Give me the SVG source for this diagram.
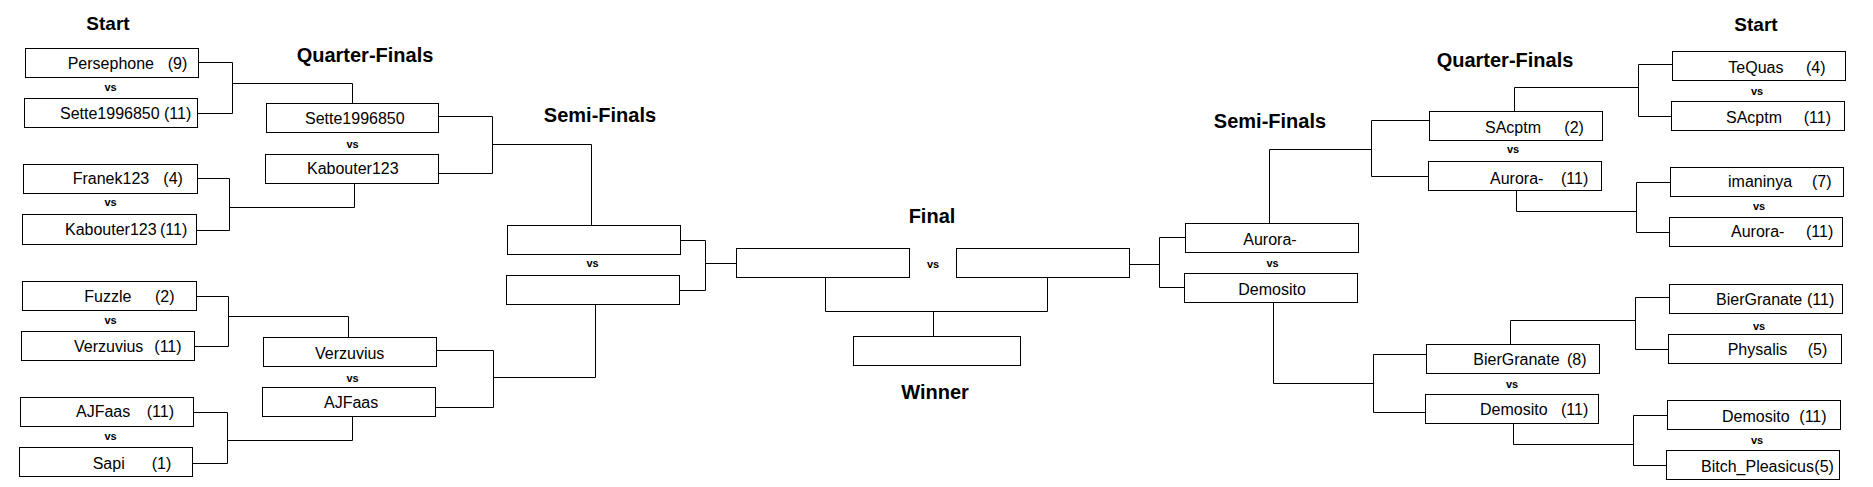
<svg xmlns="http://www.w3.org/2000/svg" width="1873" height="487" viewBox="0 0 1873 487">
<style>
.box{fill:#fff;stroke:#000;stroke-width:1}
.con{fill:none;stroke:#000;stroke-width:1}
.nm{font-family:"Liberation Sans",Arial,sans-serif;font-size:16px;fill:#000}
.hd{font-family:"Liberation Sans",Arial,sans-serif;font-size:20px;font-weight:bold;fill:#000;text-anchor:middle}
.vs{font-family:"Liberation Sans",Arial,sans-serif;font-size:11px;font-weight:bold;fill:#000;text-anchor:middle}
</style>
<rect width="1873" height="487" fill="#fff"/>
<g id="headings">
<text class="hd" x="108" y="30" style="font-size:19px">Start</text>
<text class="hd" x="365" y="62">Quarter-Finals</text>
<text class="hd" x="600" y="122">Semi-Finals</text>
<text class="hd" x="932" y="223">Final</text>
<text class="hd" x="935" y="399">Winner</text>
<text class="hd" x="1270" y="128">Semi-Finals</text>
<text class="hd" x="1505" y="67">Quarter-Finals</text>
<text class="hd" x="1756" y="31" style="font-size:19px">Start</text>
</g>
<g id="connectors">
<path class="con" d="M198.5 62.5H232.5V113.5H197.5M232.5 83.5H352.5V103.5"/>
<path class="con" d="M197.5 178.5H229.5V230.5H196.5M229.5 207.5H354.5V183.5"/>
<path class="con" d="M196.5 296.5H228.5V346.5H194.5M228.5 316.5H348.5V337.5"/>
<path class="con" d="M193.5 412.5H227.5V463.5H192.5M227.5 440.5H352.5V416.5"/>
<path class="con" d="M438.5 116.5H492.5V173.5H438.5M492.5 144.5H591.5V225.5"/>
<path class="con" d="M436.5 350.5H493.5V407.5H435.5M493.5 377.5H595.5V304.5"/>
<path class="con" d="M680.5 240.5H705.5V290.5H679.5M705.5 263.5H736.5"/>
<path class="con" d="M825.5 277.5V311.5H1047.5V277.5M933.5 311.5V336.5"/>
<path class="con" d="M1129.5 264.5H1159.5M1185.5 237.5H1159.5V287.5H1184.5"/>
<path class="con" d="M1269.5 223.5V149.5H1371.5M1429.5 120.5H1371.5V176.5H1428.5"/>
<path class="con" d="M1273.5 302.5V383.5H1373.5M1426.5 354.5H1373.5V412.5H1425.5"/>
<path class="con" d="M1514.5 111.5V87.5H1638.5M1672.5 64.5H1638.5V116.5H1671.5"/>
<path class="con" d="M1516.5 190.5V211.5H1636.5M1670.5 182.5H1636.5V232.5H1669.5"/>
<path class="con" d="M1510.5 344.5V320.5H1635.5M1669.5 297.5H1635.5V349.5H1668.5"/>
<path class="con" d="M1513.5 423.5V444.5H1633.5M1667.5 415.5H1633.5V465.5H1666.5"/>
</g>
<g id="vs-labels">
<text class="vs" x="110.5" y="91">vs</text>
<text class="vs" x="352.5" y="148">vs</text>
<text class="vs" x="110.5" y="206">vs</text>
<text class="vs" x="110.5" y="324">vs</text>
<text class="vs" x="352.5" y="381.5">vs</text>
<text class="vs" x="110.5" y="440">vs</text>
<text class="vs" x="592.5" y="267">vs</text>
<text class="vs" x="933" y="267.5">vs</text>
<text class="vs" x="1272.5" y="266.5">vs</text>
<text class="vs" x="1757" y="95">vs</text>
<text class="vs" x="1513" y="153">vs</text>
<text class="vs" x="1759" y="210">vs</text>
<text class="vs" x="1759" y="329.5">vs</text>
<text class="vs" x="1512" y="387.5">vs</text>
<text class="vs" x="1757" y="443.5">vs</text>
</g>
<g id="start-l1"><rect class="box" x="25.5" y="48.5" width="173" height="29"/><text class="nm" y="68.5"><tspan x="67.7">Persephone</tspan><tspan x="167.7">(9)</tspan></text></g>
<g id="start-l2"><rect class="box" x="24.5" y="98.5" width="173" height="29"/><text class="nm" y="119"><tspan x="60">Sette1996850</tspan><tspan x="164">(11)</tspan></text></g>
<g id="start-l3"><rect class="box" x="23.5" y="164.5" width="174" height="29"/><text class="nm" y="184"><tspan x="72.7">Franek123</tspan><tspan x="163.3">(4)</tspan></text></g>
<g id="start-l4"><rect class="box" x="22.5" y="214.5" width="174" height="30"/><text class="nm" y="235"><tspan x="65">Kabouter123</tspan><tspan x="160">(11)</tspan></text></g>
<g id="start-l5"><rect class="box" x="22.5" y="281.5" width="174" height="29"/><text class="nm" y="301.7"><tspan x="84.3">Fuzzle</tspan><tspan x="155">(2)</tspan></text></g>
<g id="start-l6"><rect class="box" x="21.5" y="331.5" width="173" height="29"/><text class="nm" y="351.7"><tspan x="74">Verzuvius</tspan><tspan x="154.3">(11)</tspan></text></g>
<g id="start-l7"><rect class="box" x="20.5" y="397.5" width="173" height="29"/><text class="nm" y="416.7"><tspan x="76">AJFaas</tspan><tspan x="146.7">(11)</tspan></text></g>
<g id="start-l8"><rect class="box" x="19.5" y="447.5" width="173" height="29"/><text class="nm" y="469.3"><tspan x="92.7">Sapi</tspan><tspan x="151.7">(1)</tspan></text></g>
<g id="qf-l1"><rect class="box" x="266.5" y="103.5" width="172" height="29"/><text class="nm" x="305" y="124">Sette1996850</text></g>
<g id="qf-l2"><rect class="box" x="265.5" y="154.5" width="173" height="29"/><text class="nm" x="307" y="174">Kabouter123</text></g>
<g id="qf-l3"><rect class="box" x="263.5" y="337.5" width="173" height="29"/><text class="nm" x="315" y="359">Verzuvius</text></g>
<g id="qf-l4"><rect class="box" x="262.5" y="387.5" width="173" height="29"/><text class="nm" x="324" y="408.3">AJFaas</text></g>
<g id="sf-l1"><rect class="box" x="507.5" y="225.5" width="173" height="29"/></g>
<g id="sf-l2"><rect class="box" x="506.5" y="275.5" width="173" height="29"/></g>
<g id="final-l"><rect class="box" x="736.5" y="248.5" width="173" height="29"/></g>
<g id="final-r"><rect class="box" x="956.5" y="248.5" width="173" height="29"/></g>
<g id="winner"><rect class="box" x="853.5" y="336.5" width="167" height="29"/></g>
<g id="sf-r1"><rect class="box" x="1185.5" y="223.5" width="173" height="29"/><text class="nm" x="1243.3" y="245">Aurora-</text></g>
<g id="sf-r2"><rect class="box" x="1184.5" y="273.5" width="173" height="29"/><text class="nm" x="1238.3" y="295.3">Demosito</text></g>
<g id="qf-r1"><rect class="box" x="1429.5" y="111.5" width="173" height="29"/><text class="nm" y="133"><tspan x="1485">SAcptm</tspan><tspan x="1564.3">(2)</tspan></text></g>
<g id="qf-r2"><rect class="box" x="1428.5" y="161.5" width="173" height="29"/><text class="nm" y="184"><tspan x="1490">Aurora-</tspan><tspan x="1561">(11)</tspan></text></g>
<g id="qf-r3"><rect class="box" x="1426.5" y="344.5" width="173" height="29"/><text class="nm" y="365.3"><tspan x="1473.3">BierGranate</tspan><tspan x="1567">(8)</tspan></text></g>
<g id="qf-r4"><rect class="box" x="1425.5" y="394.5" width="173" height="29"/><text class="nm" y="415.3"><tspan x="1480">Demosito</tspan><tspan x="1561">(11)</tspan></text></g>
<g id="start-r1"><rect class="box" x="1672.5" y="51.5" width="173" height="29"/><text class="nm" y="72.7"><tspan x="1728.3">TeQuas</tspan><tspan x="1806">(4)</tspan></text></g>
<g id="start-r2"><rect class="box" x="1671.5" y="101.5" width="173" height="29"/><text class="nm" y="122.7"><tspan x="1726">SAcptm</tspan><tspan x="1803.7">(11)</tspan></text></g>
<g id="start-r3"><rect class="box" x="1670.5" y="167.5" width="173" height="29"/><text class="nm" y="186.7"><tspan x="1728">imaninya</tspan><tspan x="1812">(7)</tspan></text></g>
<g id="start-r4"><rect class="box" x="1669.5" y="217.5" width="173" height="29"/><text class="nm" y="237.3"><tspan x="1731">Aurora-</tspan><tspan x="1806">(11)</tspan></text></g>
<g id="start-r5"><rect class="box" x="1669.5" y="284.5" width="173" height="29"/><text class="nm" y="305.3"><tspan x="1716">BierGranate</tspan><tspan x="1807">(11)</tspan></text></g>
<g id="start-r6"><rect class="box" x="1668.5" y="334.5" width="173" height="29"/><text class="nm" y="355.3"><tspan x="1727.7">Physalis</tspan><tspan x="1807.7">(5)</tspan></text></g>
<g id="start-r7"><rect class="box" x="1667.5" y="400.5" width="173" height="29"/><text class="nm" y="422"><tspan x="1722">Demosito</tspan><tspan x="1799.3">(11)</tspan></text></g>
<g id="start-r8"><rect class="box" x="1666.5" y="450.5" width="173" height="29"/><text class="nm" y="472"><tspan x="1701">Bitch_Pleasicus</tspan><tspan x="1814.3">(5)</tspan></text></g>
</svg>
